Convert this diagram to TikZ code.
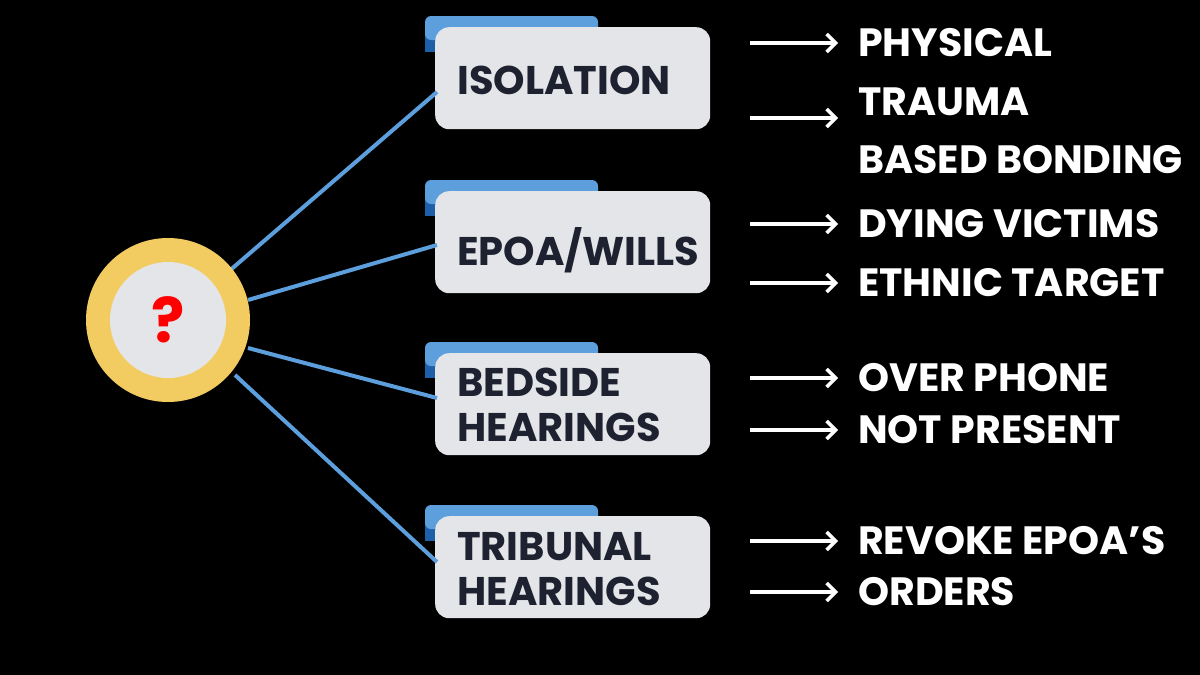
\documentclass[tikz,border=0pt]{standalone}
\usepackage{fontspec}
\setmainfont{Poppins}
\usetikzlibrary{arrows.meta}
\begin{document}
\begin{tikzpicture}[x=1pt,y=-1pt,
 card/.style={fill=cardg,rounded corners=14pt},
 tab/.style={fill=tabb,rounded corners=6pt},
 lbl/.style={anchor=west,font=\fontsize{40}{45}\selectfont\bfseries,text=labk,align=left,inner sep=0pt},
 rt/.style={anchor=west,font=\fontsize{39.5}{40}\selectfont\bfseries,text=white,inner sep=0pt},
 arr/.style={draw=white,line width=3.5pt,-{Straight Barb[length=9pt,width=18pt]}},
 conn/.style={draw=tabb,line width=4pt}]
\definecolor{cardg}{HTML}{E4E5E8}
\definecolor{tabb}{HTML}{5C9FDC}
\definecolor{tabd}{HTML}{1E5FAA}
\definecolor{labk}{HTML}{1E2230}
\definecolor{ring}{HTML}{F2CC60}
\fill[black] (0,0) rectangle (1200,675);
\useasboundingbox (0,0) rectangle (1200,675);
\foreach \t/\n/\y in {16/ka/92,180/kb/245,342/kc/398,505/kd/562}{
  \fill[tabd] (425,\t+10) rectangle (437,\t+36);
  \fill[tab] (425,\t) rectangle (598,\t+24);
  \node[card,minimum width=275pt,minimum height=102pt,anchor=north west] (\n) at (435,\t+11) {};
  \coordinate (e\n) at (437,\y);
}
\coordinate (ctr) at (168,320);
\draw[conn] (228,272) -- (eka);
\draw[conn] (248,300) -- (ekb);
\draw[conn] (248,348) -- (ekc);
\draw[conn] (235,375) -- (ekd);
\fill[ring] (ctr) circle (82);
\node[circle,fill=cardg,minimum size=116pt,text=red,font=\fontsize{62}{62}\selectfont\bfseries] (q) at (ctr) {?};
\node[lbl] (la) at (457,80) {ISOLATION};
\node[lbl] (lb) at (457,250) {EPOA/WILLS};
\node[lbl] (lc) at (457,405) {BEDSIDE\\HEARINGS};
\node[lbl] (ld) at (457,569) {TRIBUNAL\\HEARINGS};
\foreach \n/\y/\s in {r1/43/PHYSICAL,r2/102/TRAUMA,r3/160/BASED BONDING,r4/224/DYING VICTIMS,r5/283/ETHNIC TARGET,r6/378/OVER PHONE,r7/430/NOT PRESENT,r8/541/REVOKE EPOA\char"0027S,r9/592/ORDERS}{
  \node[rt] (\n) at (858,\y) {\s};
}
\foreach \n/\y in {1/43,2/118,4/224,5/283,6/378,7/430,8/541,9/592}{
  \coordinate (s\n) at (750,\y);
  \coordinate (t\n) at (838,\y);
  \draw[arr] (s\n) -- (t\n);
}
\end{tikzpicture}
\end{document}
